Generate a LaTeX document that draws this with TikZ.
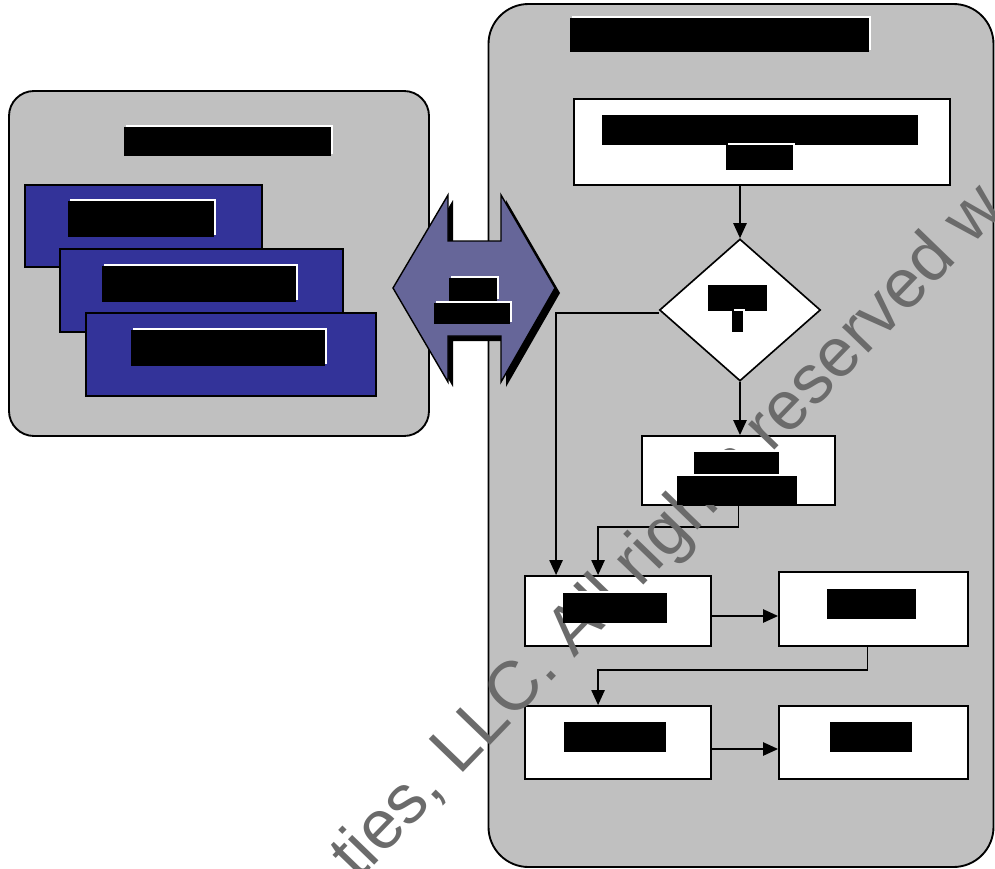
\documentclass[tikz,border=0pt]{standalone}
\usepackage{fontspec}
\usepackage{tikz}
\usetikzlibrary{arrows.meta, shapes.geometric}

\newfontfamily\wmfont{Liberation Sans}
\newcommand{\pxu}{0.03cm}

\definecolor{panelgray}{HTML}{C0C0C0}
\definecolor{cardblue}{HTML}{333399}
\definecolor{linkviolet}{HTML}{666699}
\definecolor{wmgray}{HTML}{6B6B6B}

\begin{document}
\begin{tikzpicture}[x=\pxu, y=-\pxu,
	panel/.style={draw, line width=1.6pt, fill=panelgray, inner sep=0pt},
	card/.style={draw, line width=1.5pt, fill=cardblue, inner sep=0pt},
	procbox/.style={draw, line width=1.6pt, fill=white, inner sep=0pt},
	decision/.style={diamond, draw, line width=1.4pt, fill=white, inner sep=0pt},
	flow/.style={line width=1.3pt, -{Triangle[length=0.45cm, width=0.4cm]}},
	redact/.style={fill=black, preaction={fill=white, transform canvas={xshift=0.06cm, yshift=0.06cm}}},
	wmark/.style={anchor=base west, rotate=46, inner sep=0pt, text=wmgray, font=\wmfont\fontsize{59}{59}\selectfont}]
	\useasboundingbox (0,0) rectangle (995,869);
	\clip (0,0) rectangle (995,869);

	% panels
	\node[panel, rounded corners=0.75cm, minimum width=420*\pxu, minimum height=345*\pxu] (client) at (219,263.5) {};
	\node[panel, rounded corners=1.2cm, minimum width=505*\pxu, minimum height=863*\pxu] (server) at (741,435.5) {};

	% stacked cards
	\node[card, minimum width=237*\pxu, minimum height=82*\pxu] (card1) at (143.5,226) {};
	\node[card, minimum width=283*\pxu, minimum height=83*\pxu] (card2) at (201.5,290.5) {};
	\node[card, minimum width=290*\pxu, minimum height=83*\pxu] (card3) at (231,354.5) {};

	% link arrow
	\filldraw[fill=linkviolet, line width=1.2pt, line join=miter,
		preaction={fill=black, transform canvas={xshift=0.15cm, yshift=-0.15cm}}]
		(393,288) -- (448,195) -- (448,241) -- (501,241) -- (501,195) -- (555,288)
		-- (501,382) -- (501,336) -- (448,336) -- (448,382) -- cycle;

	% flow
	\node[procbox, minimum width=376*\pxu, minimum height=86*\pxu] (top) at (762,142) {};
	\node[decision, minimum width=161*\pxu, minimum height=142*\pxu] (check) at (740,310) {};
	\node[procbox, minimum width=193*\pxu, minimum height=69*\pxu] (mid) at (738.5,470.5) {};
	\node[procbox, minimum width=186*\pxu, minimum height=70*\pxu] (r1a) at (618,611) {};
	\node[procbox, minimum width=189*\pxu, minimum height=74*\pxu] (r1b) at (873.5,609) {};
	\node[procbox, minimum width=186*\pxu, minimum height=73*\pxu] (r2a) at (618,742.5) {};
	\node[procbox, minimum width=189*\pxu, minimum height=73*\pxu] (r2b) at (873.5,742.5) {};

	\draw[flow] (check.north |- top.south) -- (check.north);
	\draw[flow] ([yshift=-3*\pxu]check.west) -| ([xshift=32*\pxu]r1a.north west);
	\draw[flow] (check.south) -- (check.south |- mid.north);
	\draw[flow] (mid.south) -- ++(0,21) -| ([xshift=74*\pxu]r1a.north west);
	\path ([yshift=-5*\pxu]r1a.east) coordinate (r1out);
	\draw[flow] (r1out) -- (r1out -| r1b.west);
	\draw[flow] ([xshift=-6*\pxu]r1b.south) -- ++(0,23) -| ([xshift=74*\pxu]r2a.north west);
	\path ([yshift=-6.5*\pxu]r2a.east) coordinate (r2out);
	\draw[flow] (r2out) -- (r2out -| r2b.west);

	% watermark
	\node[wmark] (wm) at (358,882) {ties, LLC. All rights reserved w};

	% blacked-out labels
	\path[redact] (124,127) rectangle (331,156);
	\path[redact] (68,201) rectangle (214,237);
	\path[redact] (102,266) rectangle (296,302);
	\path[redact] (131,330) rectangle (325,366);
	\path[redact] (449,278) rectangle (497,301);
	\path[redact] (434,303) rectangle (510,324);
	\path[redact] (570,18) rectangle (869,52);
	\path[redact] (602,115) rectangle (918,145);
	\path[redact] (726,145) rectangle (793,170);
	\path[redact] (708,285) rectangle (767,311);
	\path[redact] (732,311) rectangle (743,332);
	\path[redact] (694,452) rectangle (779,476);
	\path[redact] (677,476) rectangle (797,505);
	\path[redact] (563,593) rectangle (667,623);
	\path[redact] (827,589) rectangle (916,619);
	\path[redact] (564,722) rectangle (666,752);
	\path[redact] (830,722) rectangle (912,752);
\end{tikzpicture}
\end{document}
